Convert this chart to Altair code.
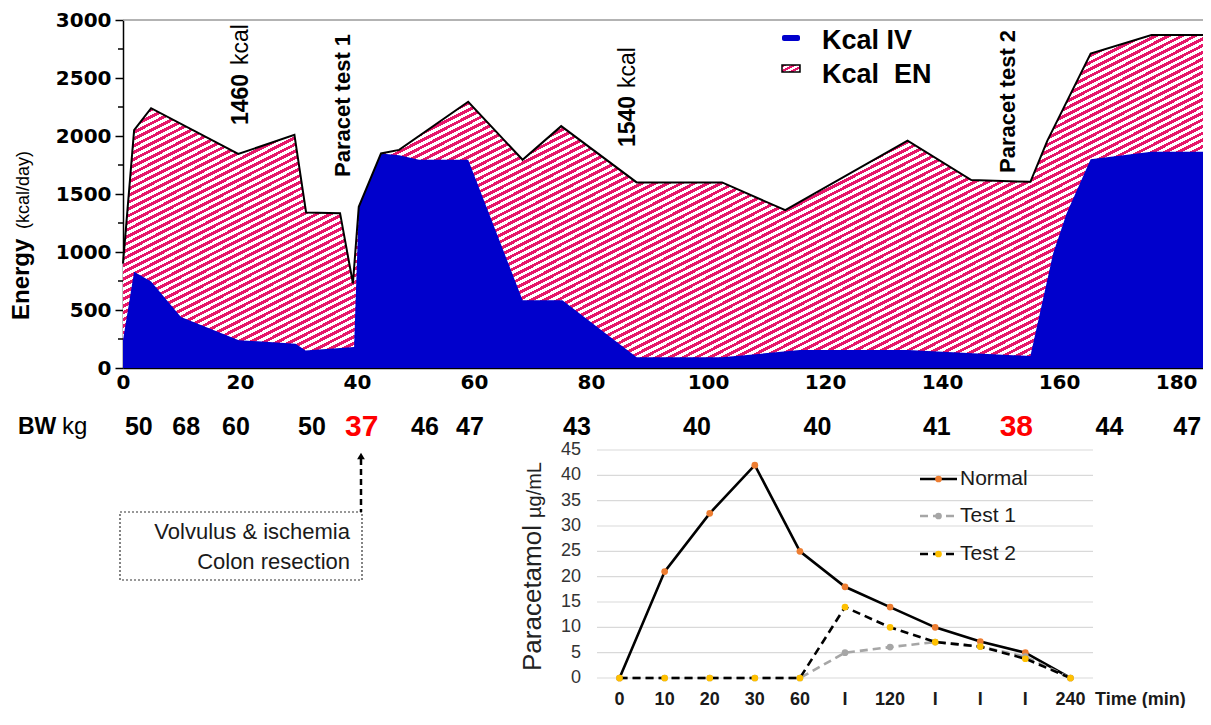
import math
import altair as alt
import pandas as pd

# ---------------- data ----------------
# total energy (IV + EN), kcal/day, upper outline of the hatched area
total_day = [0, 1.9, 4.8, 19.7, 29.3, 31.3, 37.1, 39.3, 40.3, 44.1, 47.2, 59.0, 68.3, 74.9,
             87.8, 102.4, 113.2, 134.1, 145.0, 155.1, 158.0, 165.4, 175.8, 184.6]
total_kcal = [900, 2050, 2240, 1845, 2010, 1340, 1335, 730, 1390, 1850, 1880, 2295, 1795, 2085,
              1600, 1600, 1360, 1960, 1620, 1605, 1960, 2710, 2870, 2870]

# intravenous energy, kcal/day (blue area)
iv_day = [0, 1.9, 4.8, 9.9, 19.8, 29.5, 31.2, 39.5, 40.3, 44.1, 47.2, 50.6, 59.0, 68.3, 75.1,
          87.8, 102.4, 115.7, 134.1, 155.1, 159.0, 161.3, 165.4, 175.8, 184.6]
iv_kcal = [240, 830, 745, 440, 240, 210, 150, 180, 1390, 1850, 1835, 1795, 1795, 585, 585,
           92, 92, 155, 155, 103, 990, 1335, 1800, 1865, 1865]

# body weight row
bw_day = [2.7, 10.8, 19.3, 32.3, 40.8, 51.6, 59.3, 77.6, 98.1, 118.7, 139.1, 152.7, 168.6, 181.9]
bw_kg = ["50", "68", "60", "50", "37", "46", "47", "43", "40", "40", "41", "38", "44", "47"]
bw_red = [False, False, False, False, True, False, False, False, False, False, False, True, False, False]

y_ticks = [0, 500, 1000, 1500, 2000, 2500, 3000]
y_minor = [250, 750, 1250, 1750, 2250, 2750]
x_ticks = [0, 20, 40, 60, 80, 100, 120, 140, 160, 180]

# paracetamol inset
times = ["0", "10", "20", "30", "60", "90", "120", "150", "180", "210", "240"]
time_labels = ["0", "10", "20", "30", "60", "I", "120", "I", "I", "I", "240"]
normal = [0, 21, 32.5, 42, 25, 18, 14, 10, 7.2, 5, 0]
test1 = [0, 0, 0, 0, 0, 5, 6.1, 7.1, 6.2, 4.2, 0]
test2 = [0, 0, 0, 0, 0, 14, 10, 7.1, 6.2, 3.8, 0]
conc_ticks = [0, 5, 10, 15, 20, 25, 30, 35, 40, 45]

# ---------------- layout helpers ----------------
SANS = "Liberation Sans"
PW, PH = 1080, 348
X0, Y0 = 123, 20          # page position of the plot origin


def cx(p):
    return p - X0


def cy(p):
    return p - Y0


XD = [0, 184.6]
xs = alt.Scale(domain=XD, nice=False, zero=False)
ys = alt.Scale(domain=[0, 3000], nice=False)

PINK = "#E6176A"
BLUE = "#0000CC"


def hatch(W, H, theta_deg, period, c1, c2, duty=0.5):
    th = math.radians(theta_deg)
    gx = W * math.tan(th) / H
    gy = 1.0
    g2 = gx * gx + gy * gy
    dt = period * math.hypot(gx / W, gy / H) / g2
    tmax = min(1.0, (gx + gy) / g2 + dt)
    stops = []
    t = 0.0
    while t < tmax:
        a = round(t, 5)
        b = round(min(t + dt * duty, 1.0), 5)
        c = round(min(t + dt, 1.0), 5)
        stops += [(a, c1), (b, c1), (b, c2), (c, c2)]
        t += dt
    return alt.LinearGradient(
        gradient="linear", x1=0, y1=0, x2=gx, y2=gy,
        stops=[alt.GradientStop(offset=o, color=c) for o, c in stops])


one = pd.DataFrame({"k": [0]})


def txt(text, x, y, size, weight="normal", angle=0, align="left", baseline="middle",
        color="black", font=SANS):
    return alt.Chart(one).mark_text(
        text=text, font=font, fontSize=size, fontWeight=weight, angle=angle,
        align=align, baseline=baseline, color=color
    ).encode(x=alt.value(cx(x)), y=alt.value(cy(y)))


def rule(x1, x2, y1, y2, color="black", width=1.5, dash=None):
    kw = dict(color=color, strokeWidth=width)
    if dash:
        kw["strokeDash"] = dash
    return alt.Chart(one).mark_rule(**kw).encode(
        x=alt.value(cx(x1)), x2=alt.value(cx(x2)), y=alt.value(cy(y1)), y2=alt.value(cy(y2)))


# ---------------- energy chart ----------------
tot_df = pd.DataFrame({"day": total_day, "kcal": total_kcal})
iv_df = pd.DataFrame({"day": iv_day, "kcal": iv_kcal})

x_axis = alt.Axis(values=x_ticks, title=None, grid=False, ticks=False, labelFont="DejaVu Sans",
                  labelFontWeight="bold", labelFontSize=20, labelColor="black", labelPadding=4,
                  domainColor="black", domainWidth=1.5, labelFlush=False, format="d")
y_axis = alt.Axis(values=y_ticks, title=None, grid=False, tickSize=8, tickColor="black",
                  tickWidth=1.5, labelFont="DejaVu Sans", labelFontWeight="bold", labelFontSize=20,
                  labelColor="black", labelPadding=4, domainColor="black", domainWidth=1.5,
                  format="d")

W_area = (max(total_day) - min(total_day)) / (XD[1] - XD[0]) * PW
H_area = max(total_kcal) / 3000 * PH

pink = alt.Chart(tot_df).mark_area(fill=hatch(W_area, H_area, 27, 6.0, PINK, "white", 0.5)).encode(
    x=alt.X("day:Q", scale=xs, axis=x_axis), y=alt.Y("kcal:Q", scale=ys, axis=y_axis))
blue = alt.Chart(iv_df).mark_area(color=BLUE, opacity=1).encode(
    x=alt.X("day:Q", scale=xs, axis=None), y=alt.Y("kcal:Q", scale=ys, axis=None))
outline = alt.Chart(tot_df).mark_line(color="black", strokeWidth=2).encode(
    x=alt.X("day:Q", scale=xs, axis=None), y=alt.Y("kcal:Q", scale=ys, axis=None))
minor = alt.Chart(pd.DataFrame({"m": y_minor})).mark_rule(color="black", strokeWidth=1.5).encode(
    y=alt.Y("m:Q", scale=ys, axis=None), x=alt.value(-5), x2=alt.value(0))
top_rule = rule(X0, X0 + PW, Y0, Y0, color="#9a9a9a", width=1.5)

annot = [
    txt("1460", 241, 125, 23, "bold", 270),
    txt("kcal", 241, 65, 23, "normal", 270),
    txt("Paracet test 1", 343, 177, 22, "bold", 270),
    txt("1540", 628, 147, 23, "bold", 270),
    txt("kcal", 628, 88, 23, "normal", 270),
    txt("Paracet test 2", 1008, 173, 22, "bold", 270),
    # y title
    txt("Energy", 29, 320, 24, "bold", 270, baseline="alphabetic"),
    txt("(kcal/day)", 29, 229, 18, "normal", 270, baseline="alphabetic"),
]

# legend of energy chart
leg_iv = alt.Chart(one).mark_rect(fill=BLUE, cornerRadius=2).encode(
    x=alt.value(cx(782)), x2=alt.value(cx(800)), y=alt.value(cy(35)), y2=alt.value(cy(41)))
leg_en = alt.Chart(one).mark_rect(fill=hatch(18, 7, 27, 4.5, PINK, "white"), stroke="black",
                                  strokeWidth=1.5).encode(
    x=alt.value(cx(782)), x2=alt.value(cx(800)), y=alt.value(cy(65)), y2=alt.value(cy(72)))
legend_txt = [
    txt("Kcal IV", 822, 41, 27, "bold"),
    txt("Kcal\u00a0 EN", 822, 75, 27, "bold"),
]

# BW row
bw_df = pd.DataFrame({
    "day": bw_day, "kg": bw_kg,
    "col": ["#FF0000" if r else "black" for r in bw_red],
    "fs": [30 if r else 25 for r in bw_red],
})
bw = alt.Chart(bw_df).mark_text(font=SANS, fontWeight="bold", align="center", baseline="middle").encode(
    x=alt.X("day:Q", scale=xs, axis=None), y=alt.value(cy(427)), text="kg:N",
    color=alt.Color("col:N", scale=None), size=alt.Size("fs:Q", scale=None))
bw_lab = [txt("BW", 18, 427, 23, "bold"), txt("kg", 62, 427, 24, "normal")]

# surgery note
box = alt.Chart(one).mark_rect(fill="white", stroke="#333333", strokeWidth=1.2, strokeDash=[2, 2]).encode(
    x=alt.value(cx(120)), x2=alt.value(cx(362)), y=alt.value(cy(512)), y2=alt.value(cy(580)))
arrow = rule(361, 361, 459, 512, width=2.5, dash=[6, 4])
arrow_head = alt.Chart(one).mark_point(shape="triangle-up", filled=True, color="black", size=60, opacity=1).encode(
    x=alt.value(cx(361)), y=alt.value(cy(456)))
note = [
    txt("Volvulus & ischemia", 350, 532, 22, align="right", color="#1a1a1a"),
    txt("Colon resection", 350, 562, 22, align="right", color="#1a1a1a"),
]

# ---------------- paracetamol inset ----------------
xs_in = alt.Scale(type="point", domain=times, range=[cx(597), cx(1093)], padding=0.5)
ys_in = alt.Scale(domain=[0, 45], range=[cy(678), cy(450)], nice=False, zero=True)

grid = alt.Chart(pd.DataFrame({"v": conc_ticks})).mark_rule(color="#d9d9d9", strokeWidth=1.2).encode(
    y=alt.Y("v:Q", scale=ys_in, axis=None), x=alt.value(cx(597)), x2=alt.value(cx(1093)))
ylab = alt.Chart(pd.DataFrame({"v": conc_ticks})).mark_text(
    font=SANS, fontSize=18, color="#333333", align="right", baseline="middle").encode(
    y=alt.Y("v:Q", scale=ys_in, axis=None), x=alt.value(cx(581)), text="v:Q")
xlab = alt.Chart(pd.DataFrame({"t": times, "lab": time_labels})).mark_text(
    font=SANS, fontSize=18, fontWeight="bold", color="#1a1a1a", align="center", baseline="middle").encode(
    x=alt.X("t:N", scale=xs_in, axis=None), y=alt.value(cy(700)), text="lab:N")

inset_txt = [
    txt("Time (min)", 1095, 700, 18, "bold", color="#1a1a1a"),
    txt("Paracetamol", 541, 671, 26, "normal", 270, baseline="alphabetic", color="#222222"),
    txt("\u00b5g/mL", 541, 518, 20, "normal", 270, baseline="alphabetic", color="#222222"),
]

series = [
    ("Normal", normal, "black", None, "#ED7D31"),
    ("Test 1", test1, "#A6A6A6", [8, 5], "#A6A6A6"),
    ("Test 2", test2, "black", [8, 5], "#FFC000"),
]
inset_layers = []
leg_y = {"Normal": 479, "Test 1": 516, "Test 2": 554}
for name, vals, lc, dash, mc in series:
    d = pd.DataFrame({"t": times, "v": vals})
    kw = dict(color=lc, strokeWidth=2.6)
    if dash:
        kw["strokeDash"] = dash
    inset_layers.append(alt.Chart(d).mark_line(**kw).encode(
        x=alt.X("t:N", scale=xs_in, axis=None), y=alt.Y("v:Q", scale=ys_in, axis=None)))
    inset_layers.append(alt.Chart(d).mark_point(filled=True, color=mc, size=45, opacity=1).encode(
        x=alt.X("t:N", scale=xs_in, axis=None), y=alt.Y("v:Q", scale=ys_in, axis=None)))
    ly = leg_y[name]
    inset_layers.append(rule(920, 957, ly, ly, color=lc, width=2.6, dash=dash))
    inset_layers.append(alt.Chart(one).mark_point(filled=True, color=mc, size=45, opacity=1).encode(
        x=alt.value(cx(938.5)), y=alt.value(cy(ly))))
    inset_layers.append(txt(name, 960, ly, 21, color="#1a1a1a"))

layers = ([pink, blue, outline, minor, top_rule] + annot + [leg_iv, leg_en] + legend_txt
          + [bw] + bw_lab + [box, arrow, arrow_head] + note
          + [grid, ylab, xlab] + inset_txt + inset_layers)

chart = alt.layer(*layers).resolve_scale(x="independent", y="independent").properties(
    width=PW, height=PH,
    autosize=alt.AutoSizeParams(type="none"),
    padding={"left": 115, "top": 12, "right": 0, "bottom": 340},
    background="white",
).configure_view(stroke=None)

chart.save("out.html", embed_options={"renderer": "svg", "actions": False})
